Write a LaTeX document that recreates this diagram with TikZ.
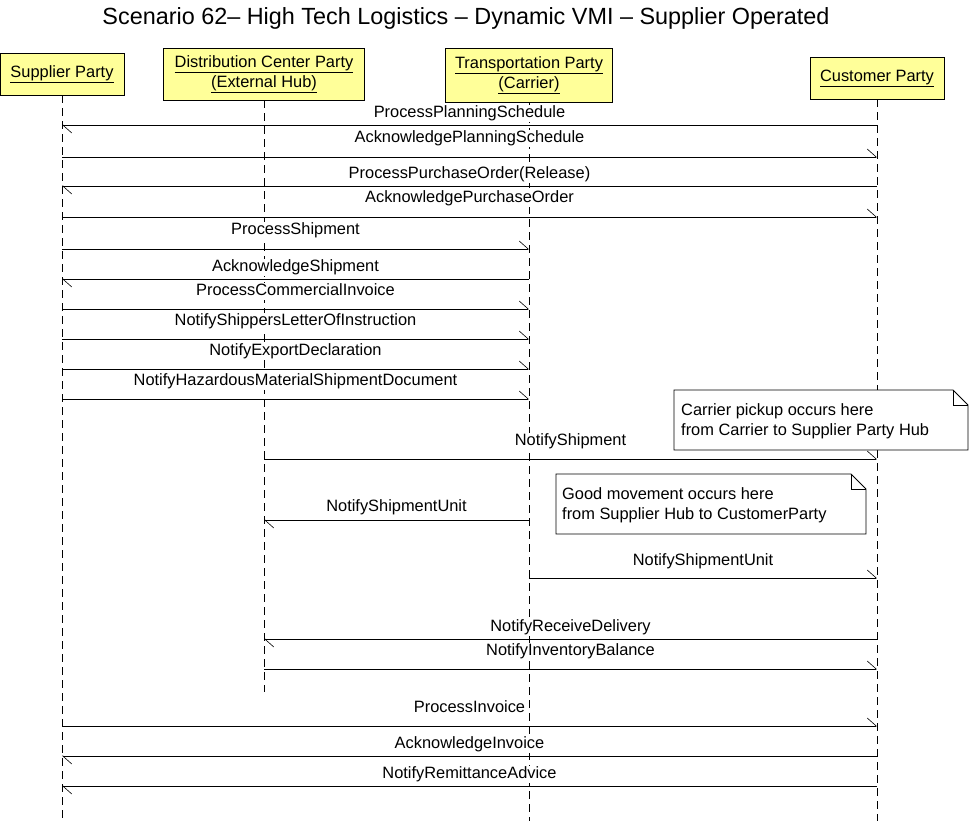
\documentclass[tikz,border=0pt]{standalone}
\usepackage{fontspec}
\setmainfont{Liberation Sans}
\usetikzlibrary{arrows.meta, calc}

\definecolor{partyfill}{RGB}{255,255,153}

\tikzset{
  party/.style={draw, fill=partyfill, line width=0.8pt, align=center, inner sep=2pt,
    font=\fontsize{16.4}{20}\selectfont},
  life/.style={dash pattern=on 8pt off 5pt, line width=0.8pt},
  msg/.style={line width=0.8pt, -{Straight Barb[left, length=9pt, width=16pt, line width=0.6pt]}},
  lbl/.style={fill=white, inner sep=1pt, text height=11.5pt, text depth=3.5pt,
    font=\fontsize{16.4}{20}\selectfont},
  note/.style={draw, fill=white, line width=0.8pt},
  notetext/.style={align=left, inner sep=0pt, font=\fontsize{16.4}{20.5}\selectfont}
}

\begin{document}
\begin{tikzpicture}[x=1pt, y=-1pt]
\useasboundingbox (0,0) rectangle (969,821);

% Title
\node[font=\fontsize{23.4}{28}\selectfont] (title) at (466,18)
  {Scenario 62-- High Tech Logistics -- Dynamic VMI -- Supplier Operated};

% Parties
\node[party, minimum width=124pt, minimum height=42pt] (sup) at (62,74) {\underline{Supplier Party}};
\node[party, minimum width=201pt, minimum height=52pt] (dc) at (264,74)
  {\underline{Distribution Center Party}\\\underline{(External Hub)}};
\node[party, minimum width=167pt, minimum height=54pt] (tr) at (529,75)
  {\underline{Transportation Party}\\\underline{(Carrier)}};
\node[party, minimum width=134pt, minimum height=42pt] (cus) at (877,78) {\underline{Customer Party}};

% Lifelines
\draw[life] (sup.south) -- (sup |- 0,821);
\draw[life] (dc.south) -- (dc |- 0,692);
\draw[life] (tr.south) -- (tr |- 0,821);
\draw[life] (cus.south) -- (cus |- 0,821);

% Messages: from/to/y/label shift/text
\foreach \f/\t/\y/\d/\txt in {
  cus/sup/125/11/ProcessPlanningSchedule,
  sup/cus/157/18/AcknowledgePlanningSchedule,
  cus/sup/186/11/ProcessPurchaseOrder(Release),
  sup/cus/217/18/AcknowledgePurchaseOrder,
  sup/tr/249/18/ProcessShipment,
  tr/sup/279/12/AcknowledgeShipment,
  sup/tr/309/18/ProcessCommercialInvoice,
  sup/tr/339/18/NotifyShippersLetterOfInstruction,
  sup/tr/369/18/NotifyExportDeclaration,
  sup/tr/399/18/NotifyHazardousMaterialShipmentDocument,
  dc/cus/459/18/NotifyShipment,
  tr/dc/520/13/NotifyShipmentUnit,
  tr/cus/578/17/NotifyShipmentUnit,
  cus/dc/639/12/NotifyReceiveDelivery,
  dc/cus/669/18/NotifyInventoryBalance,
  sup/cus/726/18/ProcessInvoice,
  cus/sup/756/12/AcknowledgeInvoice,
  cus/sup/786/12/NotifyRemittanceAdvice}
  \draw[msg] (\f |- 0,\y) -- (\t |- 0,\y) node[lbl, midway, yshift=\d pt] {\txt};

% Notes
\draw[note] (674,390) -- (953,390) -- (968,405) -- (968,450) -- (674,450) -- cycle;
\draw[line width=0.8pt] (953,390) -- (953,405) -- (968,405);
\node[notetext, anchor=west] (pickup) at (681,421.5)
  {Carrier pickup occurs here\\from Carrier to Supplier Party Hub};

\draw[note] (556,474) -- (851,474) -- (866,489) -- (866,534) -- (556,534) -- cycle;
\draw[line width=0.8pt] (851,474) -- (851,489) -- (866,489);
\node[notetext, anchor=west] (movement) at (562,505.5)
  {Good movement occurs here\\from Supplier Hub to CustomerParty};

\end{tikzpicture}
\end{document}
